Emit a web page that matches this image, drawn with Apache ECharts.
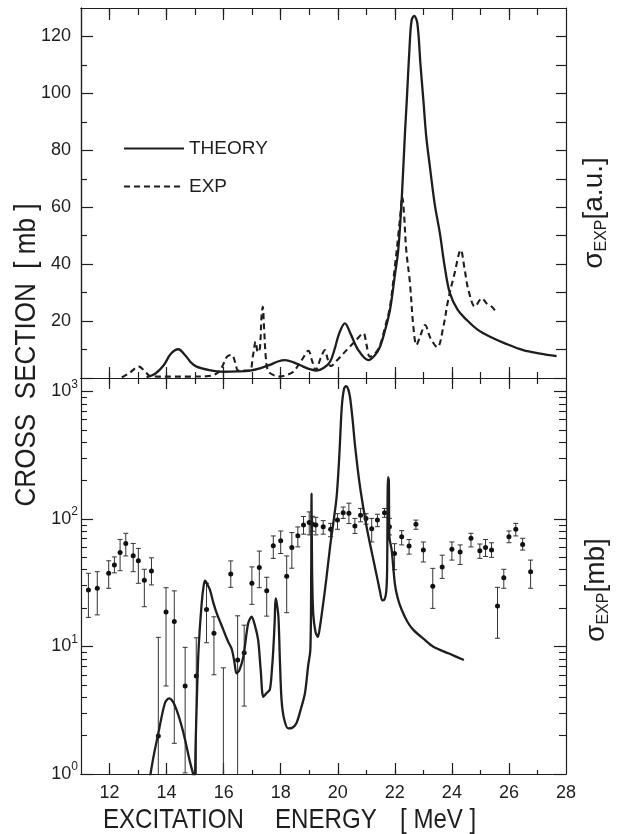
<!DOCTYPE html>
<html>
<head>
<meta charset="utf-8">
<script src="https://cdn.jsdelivr.net/npm/echarts@6/dist/echarts.min.js"></script>
<style>
  html, body { margin: 0; padding: 0; background: #fff; }
  #chart { width: 618px; height: 834px; }
</style>
</head>
<body>
<div id="chart"></div>
<script>
// upper panel (linear, a.u.)
const topTheoryE = [13.3, 13.6, 13.9, 14.15, 14.41, 14.65, 14.85, 15.05, 15.5, 15.98, 16.5, 16.92, 17.3, 17.62, 17.9,
  18.15, 18.45, 18.79, 19.05, 19.26, 19.5, 19.73, 19.9, 20.05, 20.25, 20.45, 20.72, 21.07, 21.3, 21.48,
  21.65, 21.83, 22.0, 22.12, 22.24, 22.35, 22.42, 22.52, 22.59, 22.68, 22.79, 22.9, 23.0, 23.1, 23.23,
  23.4, 23.58, 23.75, 23.93, 24.2, 24.52, 24.9, 25.34, 25.9, 26.5, 27.1, 27.67]
const topTheoryS = [0.3, 1.5, 4.5, 8.5, 10.1, 8, 5.5, 4.0, 2.8, 2.2, 2.3, 2.6, 3.5, 4.6, 5.8,
  6.3, 5.5, 4.0, 3.0, 2.6, 3.5, 5.7, 10.5, 15.7, 19.2, 15.5, 9.8, 6.3, 8, 11,
  16.5, 23.9, 36, 45, 62.5, 85, 97.7, 117, 125.8, 127.2, 124.6, 110, 97.7, 85, 74.2,
  61, 50.8, 39, 29.8, 24, 20.4, 17, 14.5, 12, 9.8, 8.6, 7.7]

const topExpE = [12.43, 12.7, 13.03, 13.25, 13.42, 13.7, 14.2, 14.8, 15.4, 15.76, 15.95, 16.12, 16.28, 16.42, 16.51,
  16.9, 17.03, 17.12, 17.2, 17.27, 17.33, 17.37, 17.42, 17.48, 17.56, 17.75, 17.98, 18.2, 18.44, 18.75,
  18.97, 19.1, 19.23, 19.4, 19.55, 19.65, 19.75, 20.0, 20.31, 20.6, 20.9, 21.0, 21.13, 21.3, 21.48,
  21.66, 21.83, 22.0, 22.12, 22.2, 22.26, 22.32, 22.4, 22.53, 22.65, 22.76, 22.9, 23.06, 23.25, 23.49,
  23.7, 23.87, 24.1, 24.31, 24.45, 24.58, 24.81, 25.05, 25.22, 25.4, 25.57]
const topExpS = [0.2, 1.8, 4.0, 2.2, 0.7, 0.5, 0.5, 0.5, 0.6, 1.6, 4, 7.5, 8.1, 5, 2.6,
  2.6, 8, 12.8, 9, 10.5, 22, 25, 17, 7, 2.5, 1.0, 0.5, 1.0, 2.2, 6.5,
  9.6, 6, 2.8, 7, 9.8, 6.5, 4.2, 6.5, 9.8, 12.8, 15.7, 12, 7.5, 8.5, 11.5,
  18, 25, 39, 50, 58, 63.7, 58, 45, 33.4, 18, 11.6, 15, 18.6, 14, 10.8,
  18, 27.4, 37, 45, 38, 30.9, 25.1, 28, 26.2, 25, 22.9]

// lower panel (log, mb)
const logTheoryE = [13.42, 13.55, 13.71, 13.94, 14.09, 14.22, 14.35, 14.5, 14.65, 14.8, 14.92, 14.98, 15.02, 15.06, 15.12,
  15.23, 15.3, 15.35, 15.42, 15.52, 15.64, 15.76, 15.99, 16.15, 16.28, 16.38, 16.45, 16.55, 16.69, 16.86,
  16.98, 17.1, 17.21, 17.3, 17.39, 17.5, 17.62, 17.69, 17.74, 17.79, 17.82, 17.86, 17.92, 17.97, 18.03,
  18.12, 18.26, 18.4, 18.55, 18.7, 18.85, 18.96, 19.04, 19.07, 19.08, 19.1, 19.14, 19.22, 19.3, 19.38,
  19.49, 19.6, 19.73, 19.85, 19.96, 20.05, 20.14, 20.22, 20.29, 20.36, 20.43, 20.52, 20.61, 20.78, 21.01,
  21.25, 21.4, 21.48, 21.56, 21.64, 21.7, 21.73, 21.76, 21.79, 21.81, 21.89, 22.0, 22.1, 22.24, 22.45,
  22.65, 23.0, 23.35, 23.9, 24.42]
const logTheoryS = [0.95, 1.4, 2.08, 3.59, 3.92, 3.7, 3.18, 2.5, 1.85, 1.3, 1.02, 0.9, 1.8, 3.8, 9.4,
  21.8, 30, 32.8, 31, 27.8, 22, 18.2, 13.5, 11, 9.6, 7.5, 6.15, 6.5, 8.3, 15.2,
  17.1, 14.5, 11.2, 6.5, 4.03, 4.3, 4.6, 6.5, 9.4, 16, 23.8, 22, 17.1, 8, 3.8,
  2.7, 2.28, 2.3, 2.5, 3.2, 4.3, 7.0, 9.5, 40, 158, 40, 18, 13, 11.9, 14.5,
  21.8, 34, 60.4, 95, 149, 300, 750, 1050, 1100, 1050, 900, 600, 368, 179, 87,
  47.7, 33, 27, 23, 23.5, 27, 40, 213, 200, 72.6, 57, 31.3, 24, 19.4, 15.5,
  13.5, 11.5, 9.95, 8.8, 7.84]

const expE = [11.26, 11.57, 11.97, 12.17, 12.37, 12.57, 12.83, 13.01, 13.22, 13.47, 13.71, 13.98, 14.27, 14.65, 15.04,
  15.4, 15.66, 15.99, 16.25, 16.49, 16.72, 16.99, 17.25, 17.51, 17.74, 18.0, 18.21, 18.39, 18.6, 18.8,
  19.0, 19.12, 19.23, 19.49, 19.75, 19.99, 20.19, 20.39, 20.6, 20.8, 20.99, 21.19, 21.39, 21.64, 21.81,
  21.99, 22.24, 22.5, 22.74, 23.0, 23.33, 23.66, 24.0, 24.29, 24.67, 24.98, 25.18, 25.39, 25.6, 25.82,
  26.0, 26.24, 26.48, 26.76]
const expS = [27.7, 28.6, 37.5, 43.6, 54.5, 64.3, 51.5, 47, 33.1, 39, 1.99, 18.6, 15.7, 4.9, 5.87,
  19.5, 12.7, 0.8, 37, 7.84, 8.94, 31.3, 41.6, 27.3, 61.7, 67.4, 35.6, 59.8, 73.7, 89.5,
  93.9, 91.1, 89.5, 87, 83, 98.3, 112, 111, 88.2, 107, 101, 84, 98.3, 112, 87,
  53.7, 72.6, 61.5, 91, 57, 29.7, 42.1, 58, 55.1, 70.5, 56.3, 59.8, 57, 20.8, 34.6,
  72.6, 83, 63.2, 38.6]
const expLow = [16.9, 17.7, 28.6, 37.8, 39.3, 51.3, 38.6, 31.3, 20.5, 30.4, 0.8, 4.9, 1.74, 1.02, 0.9,
  10.7, 6.0, 0.5, 29.1, 0.95, 3.41, 21.4, 28.9, 17.3, 49.1, 53.6, 18.4, 41.1, 60.4, 76,
  75, 80, 75, 76, 72.6, 83, 101, 92, 77, 95, 91, 66, 87, 103, 75,
  40, 62.6, 53, 83, 46, 19.9, 34.2, 47.6, 44, 60.4, 49.1, 50.8, 50, 11.6, 28.6,
  65.1, 73.6, 57, 28.6]
const expHigh = [37.5, 38.6, 47, 50.4, 69.1, 77.2, 64.3, 58.8, 40.3, 49.6, 11.8, 28.9, 27.3, 9.85, 11.7,
  31.3, 17.1, 6.8, 46.9, 17.4, 14.7, 42.1, 56, 34.9, 73.6, 80.5, 51.3, 78.2, 86.6, 104.6,
  113.6, 105, 103, 97, 92.4, 110, 124, 133, 101, 121, 110, 101, 109, 121, 101,
  64, 81, 69, 98, 66, 41, 52, 66, 62.6, 77.2, 63.6, 69, 65.1, 29.1, 40.3,
  80.5, 92.4, 70.5, 47.6]

// tick positions
const eTicksAll = [12, 13, 14, 15, 16, 17, 18, 19, 20, 21, 22, 23, 24, 25, 26, 27]
const eTicksMajor = [12, 14, 16, 18, 20, 22, 24, 26]
const eLabels = [12, 14, 16, 18, 20, 22, 24, 26, 28]
const linMajor = [20, 40, 60, 80, 100, 120]
const linMinor = [10, 30, 50, 70, 90, 110]
const linAll = [10, 20, 30, 40, 50, 60, 70, 80, 90, 100, 110, 120]
const logMinor = [2, 3, 4, 5, 6, 7, 8, 9, 20, 30, 40, 50, 60, 70, 80, 90, 200, 300, 400, 500, 600, 700, 800, 900]

const INK = '#1e1e1e'
const FONT = 'Liberation Sans'
const LOG_MAX = 1275

const chart = echarts.init(document.getElementById('chart'))

const xAx = (grid, pos, ticks, len, labels) => ({
  type: 'value', gridIndex: grid, position: pos, min: 11, max: 28,
  axisLine: {show: true, onZero: false, lineStyle: {color: INK, width: 1.2}},
  axisTick: {show: true, inside: true, length: len, customValues: ticks, lineStyle: {color: INK, width: 1.2}},
  axisLabel: labels
    ? {show: true, customValues: labels, margin: 10, fontFamily: FONT, fontSize: 18, color: INK}
    : {show: false},
  splitLine: {show: false}
})

const yLin = (pos, ticks, len, labels) => ({
  type: 'value', gridIndex: 0, position: pos, min: 0, max: 130,
  axisLine: {show: true, onZero: false, lineStyle: {color: INK, width: 1.2}},
  axisTick: {show: true, inside: true, length: len, customValues: ticks, lineStyle: {color: INK, width: 1.2}},
  axisLabel: labels
    ? {show: true, customValues: labels, margin: 10, fontFamily: FONT, fontSize: 18, color: INK}
    : {show: false},
  splitLine: {show: false}
})

// overlay axis in log10 space, only used for the minor tick marks
const yLogMinor = (pos, len) => ({
  type: 'value', gridIndex: 1, position: pos, min: 0, max: Math.log10(LOG_MAX),
  axisLine: {show: false, onZero: false},
  axisTick: {show: true, inside: true, length: len, customValues: logMinor.map(v => Math.log10(v)),
    lineStyle: {color: INK, width: 1.1}},
  axisLabel: {show: false},
  splitLine: {show: false}
})

const yLog = (pos, labels) => ({
  type: 'log', logBase: 10, gridIndex: 1, position: pos, min: 1, max: LOG_MAX,
  axisLine: {show: true, onZero: false, lineStyle: {color: INK, width: 1.2}},
  axisTick: {show: true, inside: true, length: 12, lineStyle: {color: INK, width: 1.2}},
  axisLabel: labels ? {
    show: true, margin: 3, color: INK,
    formatter: v => {
      const p = Math.log10(v)
      if (Math.abs(p - Math.round(p)) > 1e-6) return ''
      return '{b|10}{s|' + Math.round(p) + '}'
    },
    rich: {
      b: {fontFamily: FONT, fontSize: 18, color: INK, lineHeight: 26},
      s: {fontFamily: FONT, fontSize: 12, color: INK, verticalAlign: 'top'}
    }
  } : {show: false},
  splitLine: {show: false}
})

const sigmaRich = {
  s: {fontFamily: FONT, fontSize: 28, fill: INK, lineHeight: 32},
  e: {fontFamily: FONT, fontSize: 16, fill: INK, verticalAlign: 'bottom'}
}

const option = {
  animation: false,
  backgroundColor: '#ffffff',
  grid: [
    {left: 81, top: 8, width: 485, height: 370},
    {left: 81, top: 378, width: 485, height: 396}
  ],
  legend: {
    data: ['THEORY', 'EXP'],
    orient: 'vertical', left: 118, top: 134,
    itemWidth: 60, itemHeight: 18, itemGap: 19,
    selectedMode: false,
    itemStyle: {opacity: 0},
    textStyle: {fontFamily: FONT, fontSize: 19, color: INK}
  },
  xAxis: [
    xAx(0, 'bottom', eTicksAll, 6),
    xAx(0, 'bottom', eTicksMajor, 11),
    xAx(0, 'top', eTicksAll, 7),
    xAx(0, 'top', eTicksMajor, 12),
    xAx(1, 'top', eTicksAll, 6),
    xAx(1, 'top', eTicksMajor, 11),
    xAx(1, 'bottom', eTicksAll, 4),
    xAx(1, 'bottom', eTicksMajor, 11, eLabels)
  ],
  yAxis: [
    yLin('left', linMajor, 12, linMajor),
    yLin('left', linMinor, 6),
    yLin('right', linAll, 10),
    yLog('left', true),
    yLogMinor('left', 6),
    yLog('right', false),
    yLogMinor('right', 7)
  ],
  series: [
    {
      name: 'THEORY', type: 'line', xAxisIndex: 0, yAxisIndex: 0,
      data: topTheoryE.map((e, i) => [e, topTheoryS[i]]),
      symbol: 'none', smooth: 0.35,
      itemStyle: {color: INK},
      lineStyle: {color: INK, width: 2.3}
    },
    {
      name: 'EXP', type: 'line', xAxisIndex: 0, yAxisIndex: 0,
      data: topExpE.map((e, i) => [e, topExpS[i]]),
      symbol: 'none', smooth: 0.35,
      itemStyle: {color: INK},
      lineStyle: {color: INK, width: 2.1, type: [6, 4]}
    },
    {
      name: 'theory (log)', type: 'line', xAxisIndex: 7, yAxisIndex: 3,
      data: logTheoryE.map((e, i) => [e, logTheoryS[i]]),
      symbol: 'none', smooth: 0.3, clip: true,
      itemStyle: {color: INK},
      lineStyle: {color: INK, width: 2.3}
    },
    {
      name: 'exp points', type: 'custom', xAxisIndex: 7, yAxisIndex: 3, clip: true,
      data: expE.map((e, i) => [e, expS[i], expLow[i], expHigh[i]]),
      encode: {x: 0, y: 1},
      renderItem: (params, api) => {
        const e = api.value(0)
        const c = api.coord([e, api.value(1)])
        const lo = api.coord([e, api.value(2)])
        const hi = api.coord([e, api.value(3)])
        const cap = 2.5
        const st = {stroke: '#333', lineWidth: 1}
        return {
          type: 'group',
          children: [
            {type: 'line', shape: {x1: lo[0], y1: lo[1], x2: hi[0], y2: hi[1]}, style: st},
            {type: 'line', shape: {x1: hi[0] - cap, y1: hi[1], x2: hi[0] + cap, y2: hi[1]}, style: st},
            {type: 'line', shape: {x1: lo[0] - cap, y1: lo[1], x2: lo[0] + cap, y2: lo[1]}, style: st},
            {type: 'circle', shape: {cx: c[0], cy: c[1], r: 2.5}, style: {fill: '#111'}}
          ]
        }
      }
    }
  ],
  graphic: [
    {type: 'text', x: 103, y: 820, scaleX: 0.86,
      style: {text: 'EXCITATION', font: '28px "Liberation Sans"', fill: INK, align: 'left', verticalAlign: 'middle'}},
    {type: 'text', x: 275, y: 820, scaleX: 0.86,
      style: {text: 'ENERGY', font: '28px "Liberation Sans"', fill: INK, align: 'left', verticalAlign: 'middle'}},
    {type: 'text', x: 400, y: 820, scaleX: 0.86,
      style: {text: '[ MeV ]', font: '28px "Liberation Sans"', fill: INK, align: 'left', verticalAlign: 'middle'}},
    {type: 'text', x: 27, y: 355, rotation: Math.PI / 2, scaleX: 0.87,
      style: {text: 'CROSS  SECTION  [ mb ]', font: '30px "Liberation Sans"', fill: INK, align: 'center', verticalAlign: 'middle'}},
    {type: 'text', x: 594, y: 213, rotation: Math.PI / 2,
      style: {text: '{s|σ}{e|EXP}{s|[a.u.]}', align: 'center', verticalAlign: 'middle', rich: sigmaRich}},
    {type: 'text', x: 596, y: 590, rotation: Math.PI / 2,
      style: {text: '{s|σ}{e|EXP}{s|[mb]}', align: 'center', verticalAlign: 'middle', rich: sigmaRich}}
  ]
}

chart.setOption(option)
</script>
</body>
</html>
